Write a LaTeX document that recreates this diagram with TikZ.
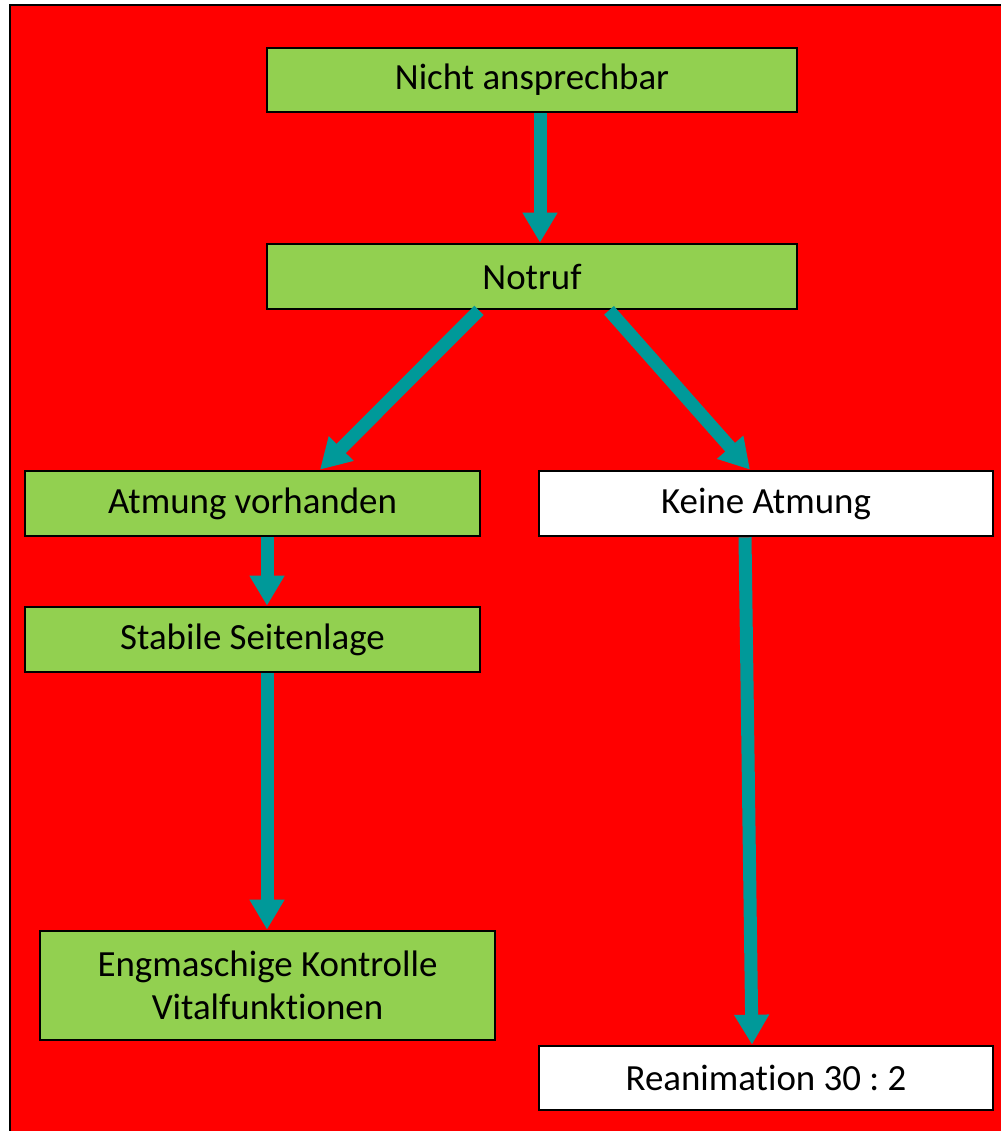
\documentclass[tikz,border=0pt]{standalone}
\usepackage{fontspec}
\setmainfont{Carlito}[Ligatures={NoCommon}]
\usetikzlibrary{arrows.meta}
\definecolor{bgred}{RGB}{255,0,0}
\definecolor{boxgreen}{RGB}{146,208,80}
\definecolor{arrteal}{RGB}{0,153,153}
\begin{document}
\frenchspacing
\begin{tikzpicture}[x=0.02cm,y=-0.02cm,
  box/.style={draw=black,line width=1.5pt,inner sep=0pt,font=\fontsize{21}{24.5}\selectfont,align=center,text=black},
  greenbox/.style={box,fill=boxgreen},
  whitebox/.style={box,fill=white},
  flow/.style={draw=arrteal,line width=0.26cm,-{Triangle[width=0.66cm,length=0.6cm]}}]
\useasboundingbox (0,0) rectangle (1000,1131);
\fill[white] (0,0) rectangle (1000,1131);
\draw[fill=bgred,line width=1.5pt] (10,5) rectangle (1010,1140);
\node[greenbox,minimum width=10.6cm,minimum height=1.28cm] (n1) at (532,80) {Nicht ansprechbar};
\node[greenbox,minimum width=10.6cm,minimum height=1.3cm] (n2) at (532,276.5) {Notruf};
\node[greenbox,minimum width=9.1cm,minimum height=1.3cm] (n3) at (252.5,503.5) {Atmung vorhanden};
\node[whitebox,minimum width=9.08cm,minimum height=1.3cm] (n4) at (766,503.5) {Keine Atmung};
\node[greenbox,minimum width=9.1cm,minimum height=1.3cm] (n5) at (252.5,639.5) {Stabile Seitenlage};
\node[greenbox,minimum width=9.1cm,minimum height=2.18cm] (n6) at (267.5,985.5) {Engmaschige Kontrolle\\Vitalfunktionen};
\node[whitebox,minimum width=9.08cm,minimum height=1.28cm] (n7) at (766,1078) {Reanimation 30 : 2};
\draw[flow] (n1.south -| 540,0) -- (n2.north -| 540,0);
\draw[flow] (n2.south -| 479,0) -- (n3.north -| 320,0);
\draw[flow] (n2.south -| 609,0) -- (n4.north -| 750,0);
\draw[flow] (n3.south -| 267,0) -- (n5.north -| 267,0);
\draw[flow] (n5.south -| 267,0) -- (n6.north -| 267,0);
\draw[flow] (n4.south -| 745,0) -- (n7.north -| 752,0);
\end{tikzpicture}
\end{document}
